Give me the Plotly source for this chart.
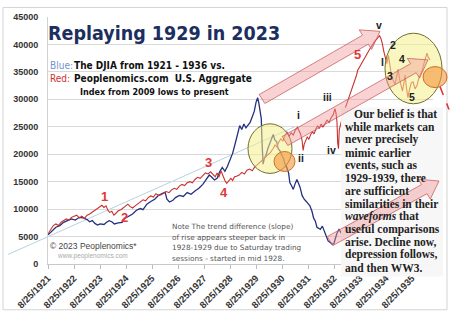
import plotly.graph_objects as go

# ---------------- data (decimal years, index values) ----------------
blue_years = [1921.65,1921.8,1921.95,1922.1,1922.25,1922.4,1922.55,1922.7,1922.85,1923.0,1923.15,1923.25,1923.35,1923.45,1923.55,1923.65,1923.8,1923.9,1924.0,1924.1,1924.2,1924.35,1924.5,1924.6,1924.75,1924.9,1925.05,1925.2,1925.3,1925.45,1925.6,1925.75,1925.9,1926.05,1926.15,1926.22,1926.32,1926.45,1926.55,1926.7,1926.85,1927.0,1927.15,1927.3,1927.45,1927.6,1927.75,1927.85,1927.95,1928.05,1928.15,1928.25,1928.35,1928.45,1928.55,1928.65,1928.75,1928.85,1928.95,1929.02,1929.1,1929.18,1929.26,1929.34,1929.42,1929.5,1929.58,1929.65,1929.71,1929.76,1929.8,1929.85,1929.88,1929.92,1929.97,1930.03,1930.1,1930.18,1930.25,1930.31,1930.37,1930.44,1930.5,1930.57,1930.63,1930.7,1930.76,1930.82,1930.9,1930.95,1931.02,1931.08,1931.15,1931.22,1931.28,1931.34,1931.42,1931.5,1931.58,1931.66,1931.72,1931.8,1931.86,1931.93,1931.99,1932.06,1932.12,1932.2,1932.27,1932.34,1932.42,1932.5,1932.58,1932.64,1932.7,1932.76,1932.84,1932.92,1933.0,1933.08,1933.2,1933.35,1933.5,1933.65,1933.8,1934.0,1934.2,1934.4,1934.6,1934.8,1935.0,1935.2,1935.4,1935.6,1935.8,1936.0,1936.2]
blue_values = [5300,6000,6700,7000,7600,7900,8200,8000,8500,8400,8100,7700,7900,7400,7100,7300,7200,7600,7900,7700,7300,7500,7600,8300,8700,9100,9800,10100,9900,10900,11400,11800,12500,12800,13100,11800,11300,11600,12100,12500,12300,13000,12700,13300,13800,14500,15500,16200,15800,15300,15600,16800,17600,16900,17800,19000,20200,22000,24000,25200,24500,25500,24800,25300,25800,26800,27800,29500,30300,29200,28000,26500,22000,18200,19300,19800,21000,22000,22800,23600,22600,22300,21000,20600,19900,19300,18200,17700,16600,14800,14200,13600,14600,15400,14700,14000,12500,11800,11400,11000,10600,9600,8400,7800,6700,6500,6300,6900,6100,5000,4200,3900,3600,3700,4900,5600,6300,5800,5100,5400,5900,6700,8400,8000,8600,9200,9900,9400,9000,9700,10400,10800,11600,12200,12800,13500,14000]

red_years = [1921.65,1921.75,1921.85,1921.95,1922.05,1922.15,1922.25,1922.35,1922.45,1922.55,1922.65,1922.75,1922.85,1922.95,1923.05,1923.15,1923.25,1923.35,1923.45,1923.55,1923.65,1923.72,1923.8,1923.88,1923.95,1924.02,1924.1,1924.18,1924.25,1924.35,1924.45,1924.55,1924.65,1924.72,1924.8,1924.9,1925.0,1925.1,1925.2,1925.3,1925.4,1925.5,1925.6,1925.7,1925.8,1925.9,1926.0,1926.1,1926.2,1926.3,1926.4,1926.5,1926.6,1926.7,1926.8,1926.9,1927.0,1927.1,1927.2,1927.3,1927.4,1927.5,1927.6,1927.7,1927.8,1927.9,1928.0,1928.08,1928.15,1928.22,1928.3,1928.38,1928.45,1928.52,1928.6,1928.68,1928.75,1928.82,1928.9,1929.0,1929.1,1929.2,1929.3,1929.4,1929.5,1929.6,1929.7,1929.8,1929.9,1930.0,1930.1,1930.2,1930.3,1930.38,1930.45,1930.52,1930.6,1930.68,1930.76,1930.84,1930.92,1931.0,1931.08,1931.16,1931.24,1931.3,1931.36,1931.42,1931.46,1931.5,1931.56,1931.62,1931.68,1931.75,1931.82,1931.88,1931.95,1932.02,1932.08,1932.15,1932.22,1932.3,1932.38,1932.46,1932.54,1932.62,1932.68,1932.72,1932.76,1932.79,1932.82,1932.85,1932.9,1932.96,1933.02,1933.08,1933.14,1933.2,1933.26,1933.32,1933.38,1933.44,1933.5,1933.56,1933.62,1933.68,1933.74,1933.8,1933.86,1933.92,1933.98,1934.04,1934.1,1934.16,1934.22,1934.28,1934.34,1934.4,1934.45,1934.5,1934.56,1934.62,1934.68,1934.74,1934.8,1934.86,1934.92,1934.99,1935.05,1935.11,1935.17,1935.23,1935.28,1935.33,1935.38,1935.43,1935.49,1935.55,1935.62,1935.69,1935.76,1935.84,1935.9,1935.97,1936.03,1936.1,1936.16,1936.22,1936.28,1936.34]
red_values = [5500,6300,7000,7300,7000,7600,7900,8200,8000,8500,8700,8900,8400,8700,8300,8900,9100,9500,9800,10100,10400,10700,10300,10600,9800,9400,9600,8900,9200,9700,9900,10300,10600,10900,10500,10200,10600,11000,11400,11700,11500,12100,12400,12200,12800,12500,12600,12900,13200,13000,13500,13800,13600,14200,14500,14300,14800,15000,14800,15400,15800,15600,16200,16600,16400,16800,16300,15900,16600,15800,17000,16000,15200,14700,15100,15600,15200,15900,16000,16200,16700,16400,17100,17300,17000,17700,18100,18500,18900,19400,19900,20300,21000,21700,21300,22200,22800,22400,23400,24000,23300,23900,23500,24400,24900,24200,23700,22500,20700,21800,22600,23200,22700,23600,24100,23700,24600,25200,24700,25500,24900,25700,26200,25800,26700,27200,28300,27600,26000,22000,21000,24500,25600,26800,27600,28400,29200,29900,30800,31700,32400,33000,34200,35300,35800,36500,36900,37300,37800,38300,38800,39300,39700,40200,40600,40900,41200,41600,41100,40300,38800,37300,36500,38000,36200,34200,33500,32700,34000,35500,33700,32300,31500,32800,34400,32200,30300,31800,33000,33200,31900,32500,33700,34500,35200,36400,37500,38400,37600,37200]

tick_years = list(range(1921, 1936))
tick_labels = [f"8/25/{y}" for y in tick_years]
y_ticks = list(range(0, 45001, 5000))

text_lines = ["Our belief is that", "while markets can", "never precisely", "mimic earlier",
              "events, such as", "1929-1939, there", "are sufficient", "similarities in their",
              "<i>waveforms</i> that", "useful comparisons", "arise. Decline now,",
              "depression follows,", "and then WW3."]
note_lines = ["Note The trend difference (slope)", "of rise appears steeper back in",
              "1928-1929 due to Saturday trading", "sessions - started in mid 1928."]

# ---------------- layout geometry ----------------
W, H = 450, 322
L, R, T, B = 48, 17, 13, 50
PW, PH = W - L - R, H - T - B
X0 = 1921.647
PX_PER_YEAR = 26.0
XMAX = X0 + PW / PX_PER_YEAR
COND = "DejaVu Sans Condensed, DejaVu Sans"


def P(px, py):
    return (px - L) / PW, (H - B - py) / PH


def arrow_path(tail, head, w=11, hw=24, hl=17):
    import math
    tx, ty = tail
    hx, hy = head
    d = math.hypot(hx - tx, hy - ty)
    ux, uy = (hx - tx) / d, (hy - ty) / d
    nx, ny = -uy, ux
    bx, by = hx - ux * hl, hy - uy * hl
    pts = [(tx + nx * w / 2, ty + ny * w / 2), (bx + nx * w / 2, by + ny * w / 2),
           (bx + nx * hw / 2, by + ny * hw / 2), (hx, hy),
           (bx - nx * hw / 2, by - ny * hw / 2), (bx - nx * w / 2, by - ny * w / 2),
           (tx - nx * w / 2, ty - ny * w / 2)]
    pp = [P(x, y) for x, y in pts]
    return "M " + " L ".join(f"{x:.4f},{y:.4f}" for x, y in pp) + " Z"


fig = go.Figure()
fig.add_trace(go.Scatter(x=blue_years, y=blue_values, mode="lines",
                         line=dict(color="#24307e", width=1.3), hoverinfo="skip"))
fig.add_trace(go.Scatter(x=red_years, y=red_values, mode="lines",
                         line=dict(color="#c8312f", width=1.1), hoverinfo="skip"))

shapes = []
shapes.append(dict(type="rect", xref="paper", yref="paper",
                   x0=P(3, 3)[0], y0=P(3, 3)[1], x1=P(447, 320)[0], y1=P(447, 320)[1],
                   line=dict(color="#d4d4d4", width=1), layer="below"))
a, b = P(8, 262), P(295, 128)
shapes.append(dict(type="line", xref="paper", yref="paper", x0=a[0], y0=a[1], x1=b[0], y1=b[1],
                   line=dict(color="#b7d3e0", width=1), layer="below"))


def circ(cx, cy, rx, ry, fill, edge):
    p0, p1 = P(cx - rx, cy + ry), P(cx + rx, cy - ry)
    return dict(type="circle", xref="paper", yref="paper", x0=p0[0], y0=p0[1], x1=p1[0], y1=p1[1],
                fillcolor=fill, line=dict(color=edge, width=1), layer="above")


shapes.append(circ(270, 151, 22, 26, "rgba(244,238,140,0.55)", "#6f6f2a"))
shapes.append(circ(284.5, 164.5, 10.5, 10.5, "rgba(244,150,60,0.6)", "#d07020"))
shapes.append(circ(413.5, 67, 28.5, 37, "rgba(244,238,140,0.55)", "#6f6f2a"))
shapes.append(circ(435, 76, 12, 11, "rgba(244,150,60,0.6)", "#d07020"))
p0, p1 = P(341, 285), P(443, 108)
shapes.append(dict(type="rect", xref="paper", yref="paper", x0=p0[0], y0=p0[1], x1=p1[0], y1=p1[1],
                   fillcolor="rgba(247,247,247,0.96)", line=dict(width=0), layer="above"))
for tail, head in [((262, 99), (380, 28)), ((285, 143), (428, 58)), ((330, 248), (439, 185))]:
    shapes.append(dict(type="path", xref="paper", yref="paper", path=arrow_path(tail, head),
                       fillcolor="rgba(240,150,150,0.42)", line=dict(color="rgba(200,90,90,0.75)", width=1),
                       layer="above"))
a, b = P(440, 86), P(449, 110)
shapes.append(dict(type="line", xref="paper", yref="paper", x0=a[0], y0=a[1], x1=b[0], y1=b[1],
                   line=dict(color="#e03030", width=1.5, dash="dash"), layer="above"))

ann = []


def txt(px, py, s, size, color, family="Liberation Sans", weight="normal", xanchor="left"):
    x, y = P(px, py)
    ann.append(dict(x=x, y=y, xref="paper", yref="paper", text=s, showarrow=False,
                    xanchor=xanchor, yanchor="middle",
                    font=dict(size=size, color=color, family=family, weight=weight)))


txt(46, 30, "Replaying 1929 in 2023", 19.5, "#1c2f5e", COND, "bold")
txt(48, 64, "Blue:", 10, "#6f93cf", COND)
txt(72, 64, "The DJIA from 1921 - 1936 vs.", 10, "#111", COND, "bold")
txt(48, 78, "Red:", 10, "#d03030", COND)
txt(72, 78, "Peoplenomics.com  U.S. Aggregate", 10, "#111", COND, "bold")
txt(78, 92, "Index from 2009 lows to present", 9, "#111", COND, "bold")
txt(48, 253, "© 2023 Peoplenomics*", 8.5, "#444")
txt(55, 264, "www.peoplenomics.com", 6.5, "#aaa")
for i, s in enumerate(note_lines):
    txt(170, 233 + i * 11, s, 7.3, "#555", "DejaVu Sans")
for i, s in enumerate(text_lines):
    txt(352 if i == 0 else 343, 115 + i * 13.4, s, 11.5, "#222", "Liberation Serif", "bold")
for px, py, s in [(104, 201, "1"), (124, 223, "2"), (208, 166, "3"), (224, 197, "4"), (357, 52, "5")]:
    txt(px, py, s, 13, "#e0383a", "Liberation Sans", "bold", "center")
for px, py, s in [(379, 21, "v"), (298, 116, "i"), (301, 161, "ii"), (327, 97, "iii"), (331, 152, "iv"),
                  (393, 42, "2"), (382, 60, "l"), (402, 57, "4"), (390, 75, "3"), (412, 97, "5")]:
    txt(px, py, s, 10.5, "#222", "Liberation Sans", "bold", "center")

fig.update_layout(
    width=W, height=H, margin=dict(l=L, r=R, t=T, b=B),
    paper_bgcolor="white", plot_bgcolor="white", showlegend=False,
    shapes=shapes, annotations=ann,
    xaxis=dict(range=[X0, XMAX], tickvals=[X0 + (y - 1921) for y in tick_years], ticktext=tick_labels,
               tickangle=-45, ticks="outside", ticklen=4, tickcolor="#bbbbbb",
               showgrid=False, zeroline=False, showline=True, linecolor="#c8c8c8",
               tickfont=dict(size=9.5, color="#333", family="Liberation Sans", weight="bold")),
    yaxis=dict(range=[0, 45000], tickvals=y_ticks, ticktext=[str(v) for v in y_ticks],
               showgrid=True, gridcolor="#d9d9d9", zeroline=False, showline=True, linecolor="#d0d0d0",
               ticklabelstandoff=7,
               tickfont=dict(size=9, color="#333", family="Liberation Sans", weight="bold")),
)
fig.write_html("out.html")
